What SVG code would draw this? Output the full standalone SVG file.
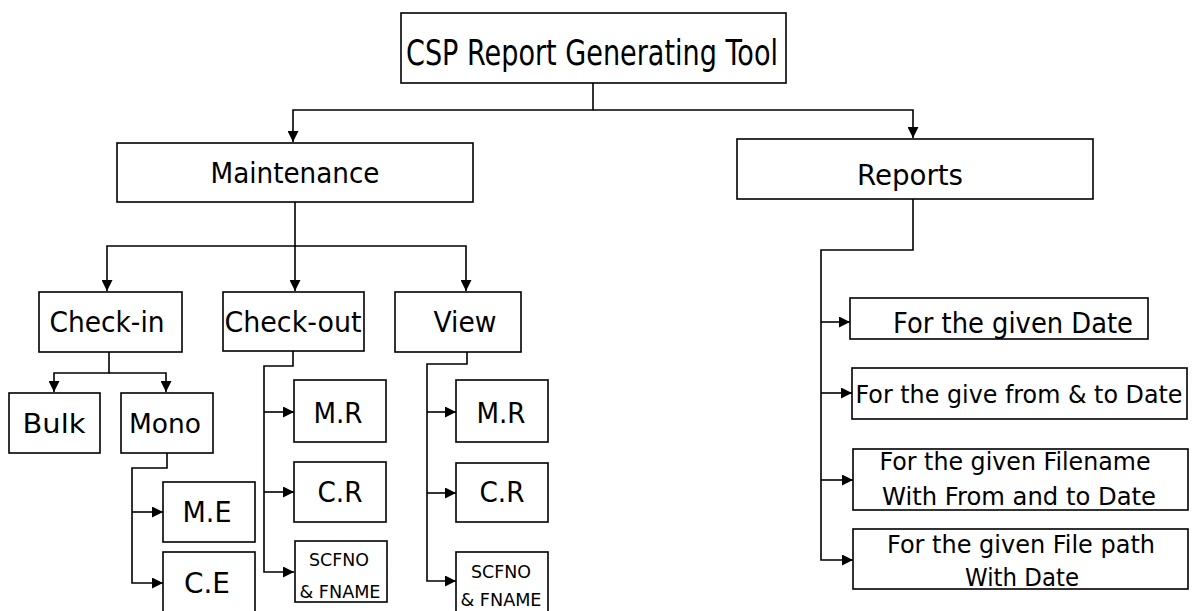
<svg xmlns="http://www.w3.org/2000/svg" width="1200" height="611" viewBox="0 0 1200 611">
<style>
.box{fill:#fff;stroke:#000;stroke-width:1.6}
.t{font-family:"DejaVu Sans","Liberation Sans",sans-serif;fill:#000;text-anchor:middle}
.c{fill:none;stroke:#000;stroke-width:1.6}
</style>
<defs>
<marker id="ah" viewBox="0 0 10 10" refX="10" refY="5" markerWidth="11" markerHeight="11" markerUnits="userSpaceOnUse" orient="auto">
<path d="M0,0 L10,5 L0,10 z" fill="#000"/>
</marker>
</defs>
<rect width="1200" height="611" fill="#fff"/>
<g id="connectors" class="c" marker-end="url(#ah)">
<path d="M593,83 V110 H293 V142"/>
<path d="M593,110 H913 V138"/>
<path d="M295,202 V246 H107 V291"/>
<path d="M295,246 V291"/>
<path d="M295,246 H466 V291"/>
<path d="M109,352 V373 H54 V392"/>
<path d="M109,373 H166 V392"/>
<path d="M167,453 V468 H132 V583 H163"/>
<path d="M132,512 H163"/>
<path d="M293,351 V366 H264 V572 H294"/>
<path d="M264,412 H294"/>
<path d="M264,492 H294"/>
<path d="M467,352 V364 H427 V581 H456"/>
<path d="M427,412 H456"/>
<path d="M427,493 H456"/>
<path d="M913,199 V250 H821 V560 H853"/>
<path d="M821,322 H850"/>
<path d="M821,393 H852"/>
<path d="M821,480 H853"/>
</g>
<g id="n-root"><rect class="box" x="401" y="13" width="385" height="70"/><text class="t" x="592" y="65" font-size="36" textLength="372" lengthAdjust="spacingAndGlyphs">CSP Report Generating Tool</text></g>
<g id="n-maintenance"><rect class="box" x="117" y="143" width="356" height="59"/><text class="t" x="295" y="183" font-size="29" textLength="169" lengthAdjust="spacingAndGlyphs">Maintenance</text></g>
<g id="n-reports"><rect class="box" x="737" y="139" width="356" height="60"/><text class="t" x="910" y="185" font-size="29" textLength="106" lengthAdjust="spacingAndGlyphs">Reports</text></g>
<g id="n-checkin"><rect class="box" x="39" y="292" width="143" height="60"/><text class="t" x="107" y="332" font-size="29" textLength="115" lengthAdjust="spacingAndGlyphs">Check-in</text></g>
<g id="n-checkout"><rect class="box" x="223" y="292" width="141" height="59"/><text class="t" x="293" y="332" font-size="29" textLength="137" lengthAdjust="spacingAndGlyphs">Check-out</text></g>
<g id="n-view"><rect class="box" x="395" y="292" width="126" height="60"/><text class="t" x="465" y="332" font-size="29" textLength="63" lengthAdjust="spacingAndGlyphs">View</text></g>
<g id="n-bulk"><rect class="box" x="9" y="393" width="91" height="60"/><text class="t" x="54" y="433" font-size="27" textLength="63" lengthAdjust="spacingAndGlyphs">Bulk</text></g>
<g id="n-mono"><rect class="box" x="121" y="393" width="92" height="60"/><text class="t" x="165" y="433" font-size="27" textLength="72" lengthAdjust="spacingAndGlyphs">Mono</text></g>
<g id="n-me"><rect class="box" x="163" y="482" width="92" height="60"/><text class="t" x="207" y="522" font-size="29" textLength="49" lengthAdjust="spacingAndGlyphs">M.E</text></g>
<g id="n-ce"><rect class="box" x="163" y="552" width="92" height="62"/><text class="t" x="207" y="593" font-size="29" textLength="46" lengthAdjust="spacingAndGlyphs">C.E</text></g>
<g id="n-co-mr"><rect class="box" x="294" y="380" width="92" height="62"/><text class="t" x="338" y="423" font-size="29" textLength="49" lengthAdjust="spacingAndGlyphs">M.R</text></g>
<g id="n-co-cr"><rect class="box" x="294" y="462" width="92" height="60"/><text class="t" x="340" y="502" font-size="29" textLength="45" lengthAdjust="spacingAndGlyphs">C.R</text></g>
<g id="n-co-sc"><rect class="box" x="295" y="541" width="92" height="61"/><text class="t" x="339" y="566" font-size="18" textLength="60" lengthAdjust="spacingAndGlyphs">SCFNO</text><text class="t" x="340" y="598" font-size="18" textLength="81" lengthAdjust="spacingAndGlyphs">&amp; FNAME</text></g>
<g id="n-v-mr"><rect class="box" x="456" y="380" width="92" height="62"/><text class="t" x="501" y="423" font-size="29" textLength="49" lengthAdjust="spacingAndGlyphs">M.R</text></g>
<g id="n-v-cr"><rect class="box" x="456" y="463" width="92" height="59"/><text class="t" x="502" y="502" font-size="29" textLength="45" lengthAdjust="spacingAndGlyphs">C.R</text></g>
<g id="n-v-sc"><rect class="box" x="456" y="552" width="92" height="62"/><text class="t" x="501" y="578" font-size="18" textLength="60" lengthAdjust="spacingAndGlyphs">SCFNO</text><text class="t" x="501" y="606" font-size="18" textLength="81" lengthAdjust="spacingAndGlyphs">&amp; FNAME</text></g>
<g id="n-r1"><rect class="box" x="850" y="298" width="298" height="41"/><text class="t" x="1013" y="333" font-size="28" textLength="240" lengthAdjust="spacingAndGlyphs">For the given Date</text></g>
<g id="n-r2"><rect class="box" x="852" y="368" width="335" height="51"/><text class="t" x="1019" y="403" font-size="25" textLength="327" lengthAdjust="spacingAndGlyphs">For the give from &amp; to Date</text></g>
<g id="n-r3"><rect class="box" x="853" y="449" width="335" height="61"/><text class="t" x="1015" y="470" font-size="24" textLength="271" lengthAdjust="spacingAndGlyphs">For the given Filename</text><text class="t" x="1019" y="505" font-size="24" textLength="274" lengthAdjust="spacingAndGlyphs">With From and to Date</text></g>
<g id="n-r4"><rect class="box" x="853" y="529" width="335" height="60"/><text class="t" x="1021" y="553" font-size="24" textLength="268" lengthAdjust="spacingAndGlyphs">For the given File path</text><text class="t" x="1022" y="586" font-size="24" textLength="114" lengthAdjust="spacingAndGlyphs">With Date</text></g>
</svg>
